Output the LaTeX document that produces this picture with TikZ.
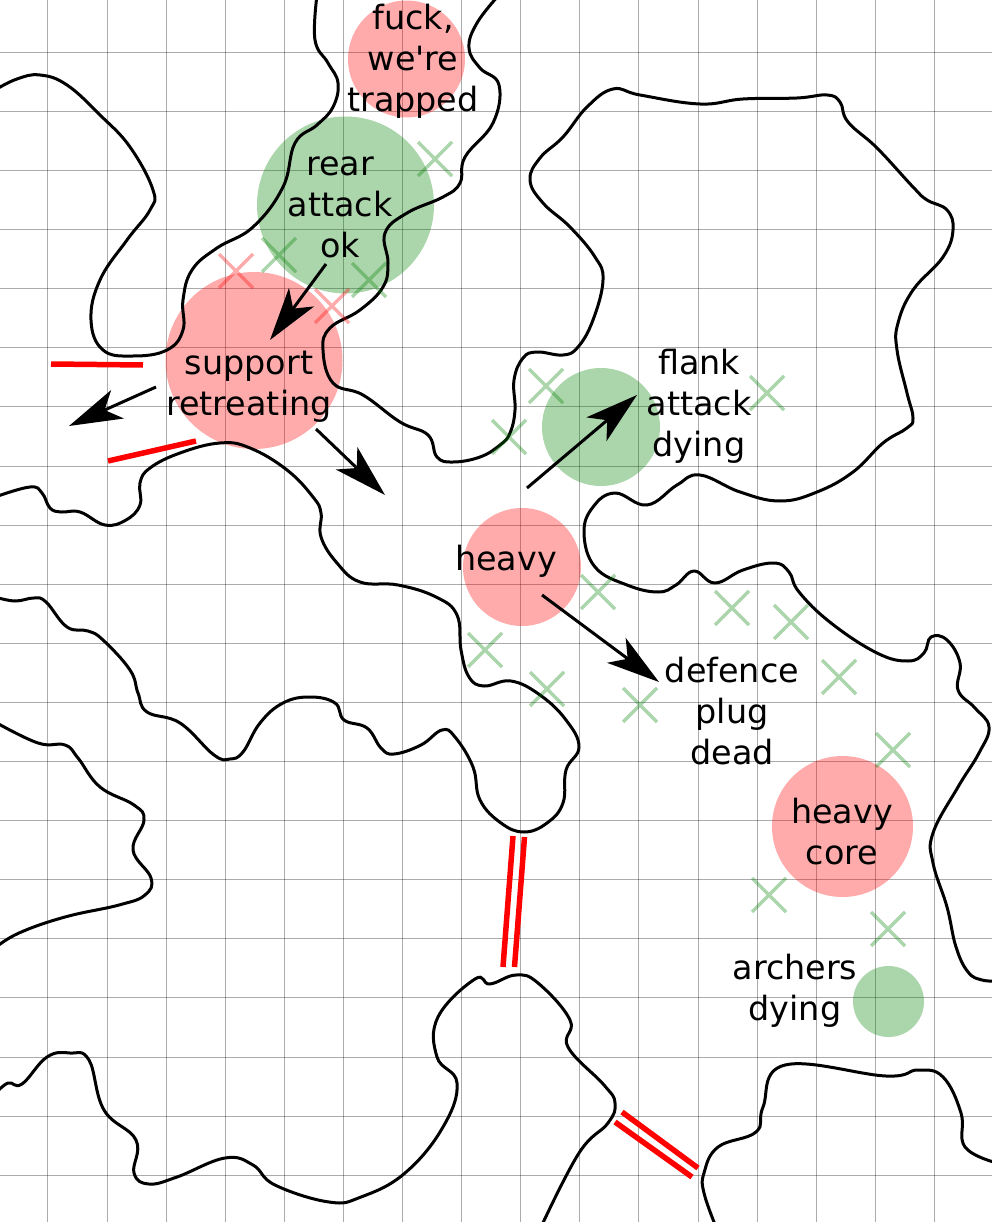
\documentclass[tikz,border=0pt]{standalone}
\usepackage{fontspec}
\setmainfont{DejaVu Sans}
\usetikzlibrary{arrows.meta}
\definecolor{blobgreen}{HTML}{008000}
\begin{document}
\begin{tikzpicture}
            [
                x = 1pt,
                y = -1pt,
                gridline/.style={
                    draw = black,
                    draw opacity = 0.33,
                    line width = 1pt
                },
                wall/.style={
                    draw = black,
                    line width = 3pt,
                    line join = round
                },
                blob/.style={
                    circle,
                    inner sep = 0pt,
                    fill opacity = 0.33,
                    minimum size = #1
                },
                redblob/.style={blob = #1, fill = red},
                greenblob/.style={blob = #1, fill = blobgreen},
                deadmark/.style={line width = 3.4pt, draw opacity = 0.33},
                barrier/.style={draw = red, line width = 5.5pt},
                move/.style={
                    draw = black,
                    line width = 3pt,
                    -{Stealth[length = 53pt, width = 31pt, inset = 14pt]}
                },
                label/.style={
                    anchor = base,
                    align = center,
                    font = \fontsize{33.4}{41}\selectfont
                },
            ]

                \useasboundingbox (0,0) rectangle (992,1222);

                \foreach \gridx in {0,...,15}
                    \draw[gridline] ({47.9+59.1*\gridx},0) -- ({47.9+59.1*\gridx},1222);
                \foreach \gridy in {0,...,19}
                    \draw[gridline] (0,{52.3+59.1*\gridy}) -- (992,{52.3+59.1*\gridy});

                \node[redblob = 117pt] (trappedblob) at (406.5,59) {};
                \node[greenblob = 177pt] (rearblob) at (345.5,205) {};
                \node[redblob = 177pt] (supportblob) at (254,360.5) {};
                \node[greenblob = 118pt] (flankblob) at (601,427) {};
                \node[redblob = 118pt] (heavyblob) at (522,567) {};
                \node[redblob = 141pt] (coreblob) at (842.5,826.5) {};
                \node[greenblob = 71pt] (archersblob) at (888.5,1001.5) {};

                \draw[wall] plot[smooth, tension = 0.7] coordinates {
                    (-5,90) (17,79) (40,75) (67,85) (100,115) (130,147) (153,190) (150,210)
                    (127,240) (100,280) (91,320) (103,350) (133,356) (167,350) (183,330)
                    (183,300) (192,270) (217,248) (253,227) (283,187) (295,143) (317,125)
                    (333,107) (338,83) (328,63) (315,40) (317,-5)};
                \draw[wall] plot[smooth, tension = 0.7] coordinates {
                    (499,-5) (477,23) (469,48) (480,68) (499,85) (493,123) (465,157) (460,183)
                    (443,197) (407,213) (385,233) (388,263) (383,287) (360,310) (330,328)
                    (323,350) (333,383) (363,395) (400,422) (428,435) (437,457) (453,462)
                    (480,457) (500,445) (510,433) (515,410) (514,380) (523,358) (537,352)
                    (563,355) (578,347) (593,320) (603,280) (595,257) (570,227) (543,203)
                    (530,180) (540,158) (563,137) (587,107) (613,89) (640,95) (700,104)
                    (743,99) (797,98) (827,95) (840,102) (848,122) (877,148) (913,187)
                    (927,200) (947,210) (953,230) (943,257) (913,290) (898,323) (897,350)
                    (907,393) (913,418) (907,428) (883,443) (853,472) (817,492) (780,501)
                    (740,492) (700,475) (677,485) (647,505) (615,493) (593,507) (584,533)
                    (595,567) (627,585) (658,592) (676,585) (694,571) (715,583) (743,570)
                    (774,563) (789,572) (799,592) (831,623) (877,653) (908,661) (924,653)
                    (931,637) (947,640) (960,663) (958,690) (975,708) (989,727) (979,753)
                    (958,787) (933,833) (933,863) (947,907) (956,947) (968,972) (982,980)
                    (997,981)};
                \draw[wall] plot[smooth, tension = 0.7] coordinates {
                    (-5,497) (30,487) (42,493) (50,508) (61,512) (80,512) (105,525) (126,520)
                    (140,505) (140,483) (150,468) (180,453) (220,443) (250,448) (287,470)
                    (313,497) (321,513) (321,537) (337,563) (360,582) (398,585) (436,597)
                    (457,615) (461,650) (469,677) (484,686) (511,681) (540,695) (566,720)
                    (579,747) (566,770) (563,803) (547,823) (524,832) (501,823) (480,800)
                    (473,767) (455,737) (442,730) (421,745) (394,754) (381,748) (367,728)
                    (344,720) (335,703) (310,697) (283,703) (260,723) (243,752) (230,759)
                    (214,755) (180,723) (147,712) (138,693) (130,670) (103,640) (88,631)
                    (67,627) (46,602) (34,598) (15,601) (-5,597)};
                \draw[wall] plot[smooth, tension = 0.7] coordinates {
                    (-5,722) (38,743) (65,745) (78,758) (100,787) (134,805) (144,820) (133,850)
                    (151,878) (145,895) (119,905) (65,917) (19,933) (-5,948)};
                \draw[wall] plot[smooth, tension = 0.7] coordinates {
                    (-5,1094) (8,1083) (22,1084) (47,1057) (70,1053) (89,1060) (104,1110)
                    (136,1140) (134,1173) (149,1184) (177,1177) (225,1158) (253,1165)
                    (275,1185) (329,1202) (361,1197) (405,1173) (443,1127) (457,1083)
                    (437,1057) (438,1017) (475,979) (490,984) (516,975) (538,983) (570,1020)
                    (568,1047) (604,1085) (615,1103) (608,1123) (579,1153) (541,1227)};
                \draw[wall] plot[smooth, tension = 0.7] coordinates {
                    (716,1227) (704,1193) (704,1173) (718,1147) (756,1132) (763,1107)
                    (785,1065) (886,1076) (918,1070) (943,1077) (961,1113) (965,1147)
                    (997,1163)};

                \foreach \markx/\marky in {435/159, 279/255, 369/280, 546/386, 509/437,
                        767/393, 598/592, 732/608, 791/622, 839/677, 893/750, 485/650,
                        547/689, 640/705, 769/895, 888/929}
                    \draw[deadmark, draw = blobgreen]
                        (\markx-17,\marky-17) -- (\markx+17,\marky+17)
                        (\markx-17,\marky+17) -- (\markx+17,\marky-17);
                \foreach \markx/\marky in {236/271, 332/306}
                    \draw[deadmark, draw = red]
                        (\markx-17,\marky-17) -- (\markx+17,\marky+17)
                        (\markx-17,\marky+17) -- (\markx+17,\marky-17);

                \draw[barrier] (51,364) -- (143,365);
                \draw[barrier] (108,461) -- (196,441);
                \draw[barrier] (513,836) -- (503,967);
                \draw[barrier] (524.5,837) -- (514.5,967);
                \draw[barrier] (622,1112) -- (698,1168);
                \draw[barrier] (615,1122) -- (692,1177);

                \node[label] (trappedlabel) at (413,111.5) {fuck,\\we\textquotesingle re\\trapped};
                \node[label] (rearlabel) at (340,258) {rear\\attack\\ok};
                \node[label] (supportlabel) at (249,415.5) {support\\retreating};
                \node[label] (flanklabel) at (699,456) {flank\\attack\\dying};
                \node[label] (heavylabel) at (506,570.5) {heavy};
                \node[label] (pluglabel) at (732,764) {defence\\plug\\dead};
                \node[label] (corelabel) at (842,864.5) {heavy\\core};
                \node[label] (archerslabel) at (795,1020.5) {archers\\dying};

                \coordinate (rearfrom) at (326,264);
                \coordinate (rearto) at (270,340);
                \coordinate (leftfrom) at (156,387);
                \coordinate (leftto) at (69,426);
                \coordinate (rightfrom) at (316,429);
                \coordinate (rightto) at (385,495);
                \coordinate (flankfrom) at (527,488);
                \coordinate (flankto) at (637,395);
                \coordinate (heavyfrom) at (542,595);
                \coordinate (heavyto) at (659,682);

                \draw[move] (rearfrom) -- (rearto);
                \draw[move] (leftfrom) -- (leftto);
                \draw[move] (rightfrom) -- (rightto);
                \draw[move] (flankfrom) -- (flankto);
                \draw[move] (heavyfrom) -- (heavyto);
            \end{tikzpicture}
\end{document}
